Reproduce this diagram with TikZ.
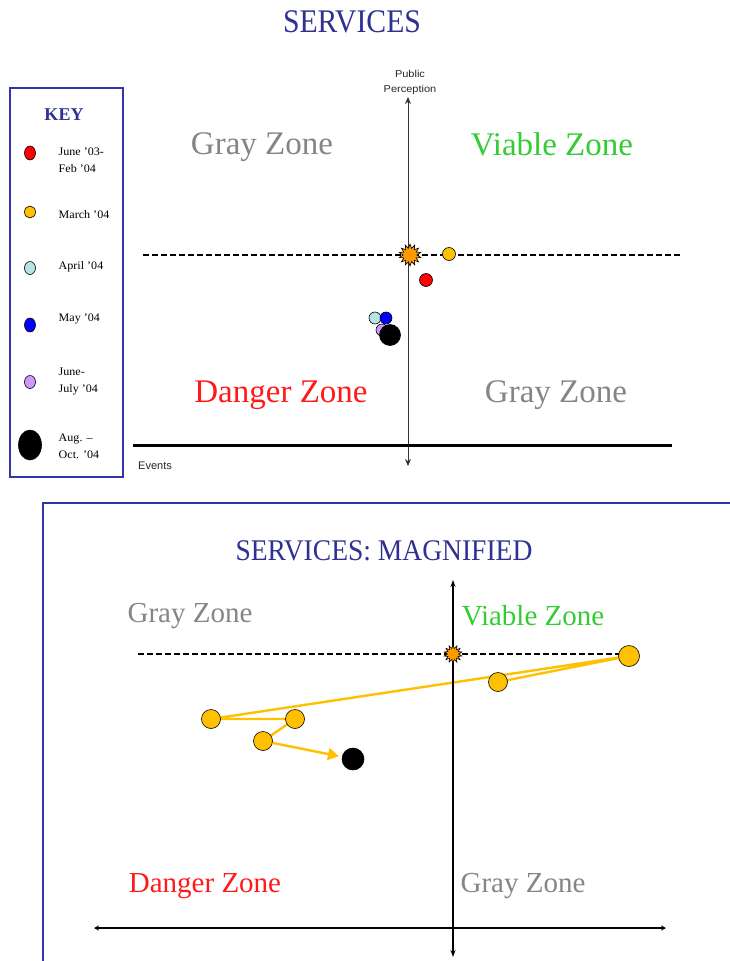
\documentclass[tikz,border=0pt]{standalone}
\usepackage{fontspec}
\setmainfont{Liberation Serif}
\newfontfamily\sansf{Liberation Sans}
\usetikzlibrary{shapes.geometric,arrows.meta,backgrounds}
\definecolor{ttlblue}{HTML}{2E3192}
\definecolor{boxblue}{HTML}{3333AA}
\definecolor{zgray}{HTML}{858585}
\definecolor{zgreen}{HTML}{33CC33}
\definecolor{zred}{HTML}{FF1A1A}
\definecolor{gold}{HTML}{FFC000}
\definecolor{starorange}{HTML}{FF9900}
\definecolor{lcyan}{HTML}{B4E4E4}
\definecolor{lpurple}{HTML}{CC99FF}
\tikzset{
  title/.style={text=ttlblue,font=\fontsize{33}{33}\selectfont,xscale=0.9},
  zonebig/.style={font=\fontsize{33}{33}\selectfont},
  zonesmall/.style={font=\fontsize{29}{29}\selectfont},
  keytext/.style={anchor=west,align=left,font=\fontsize{11.5}{17}\selectfont,xscale=1.05},
  dot/.style={circle,draw=black,line width=0.6pt,inner sep=0pt,minimum size=#1},
  kdot/.style={ellipse,draw=black,line width=0.6pt,inner sep=0pt},
  burst/.style={star,star points=14,star point ratio=1.6,draw=black,line width=0.6pt,fill=starorange,inner sep=0pt,minimum size=#1},
  axis/.style={line width=0.9pt,draw=black!80},
  dashline/.style={line width=1.9pt,dash pattern=on 6pt off 3pt},
  gline/.style={gold,line width=2.4pt},
}
\begin{document}
\begin{tikzpicture}[x=1pt,y=-1pt]
\useasboundingbox (0,0) rectangle (730,961);
% ===== top title
\node[title] (t1) at (352,22) {SERVICES};
% ===== key box
\draw[boxblue,line width=1.2pt] (10,88) rectangle (123,477);
\node[text=ttlblue,font=\bfseries\fontsize{18}{18}\selectfont] (key) at (64,115) {KEY};
\node[kdot,fill=red,minimum width=11pt,minimum height=14pt] (k1) at (30,153) {};
\node[keytext] (k1t) at (55,160) {June '03-\\Feb '04};
\node[kdot,fill=gold,minimum width=11pt,minimum height=12pt] (k2) at (30,212) {};
\node[keytext] (k2t) at (55,215) {March '04};
\node[kdot,fill=lcyan,minimum width=11pt,minimum height=13pt] (k3) at (30,268) {};
\node[keytext] (k3t) at (55,267) {April '04};
\node[kdot,fill=blue,minimum width=11pt,minimum height=14pt] (k4) at (30,325) {};
\node[keytext] (k4t) at (55,319) {May '04};
\node[kdot,fill=lpurple,minimum width=11pt,minimum height=13pt] (k5) at (30,382) {};
\node[keytext] (k5t) at (55,381) {June-\\July '04};
\node[kdot,fill=black,minimum width=23pt,minimum height=30pt] (k6) at (30,445) {};
\node[keytext] (k6t) at (55,446) {Aug. --\\Oct. '04};
% ===== top chart
\coordinate (vt) at (408,97);
\coordinate (vb) at (408,466);
\draw[axis,{Stealth[length=7pt,width=6pt]}-{Stealth[length=7pt,width=6pt]}] (vt) -- (vb);
\node[font=\sansf\fontsize{10}{15}\selectfont,align=center,xscale=1.1,text=black!85] (pp) at (410,82) {Public\\Perception};
\coordinate (dl) at (143,255);
\coordinate (dr) at (680,255);
\draw[dashline] (dl) -- (dr);
\coordinate (hl) at (133,445);
\coordinate (hr) at (672,445);
\draw[line width=3pt] (hl) -- (hr);
\node[font=\sansf\fontsize{11}{11}\selectfont,text=black!85] (ev) at (155,466) {Events};
\node[zonebig,text=zgray] (gz1) at (262,147) {Gray Zone};
\node[zonebig,text=zgreen] (vz1) at (552,144) {Viable Zone};
\node[zonebig,text=zred] (dz1) at (281,395) {Danger Zone};
\node[zonebig,text=zgray] (gz2) at (556,395) {Gray Zone};
\node[burst=22pt] (s1) at (410,255) {};
\node[dot=13pt,fill=gold] (a1) at (449,254) {};
\node[dot=13pt,fill=red] (a2) at (426,280) {};
\node[dot=12pt,fill=lcyan] (a3) at (375,318) {};
\node[dot=12pt,fill=lpurple] (a5) at (382,330) {};
\node[dot=12pt,fill=blue] (a4) at (386,318) {};
\node[dot=21pt,fill=black] (a6) at (390,335) {};
% ===== bottom box
\coordinate (bb1) at (43,961);
\coordinate (bb2) at (43,503);
\coordinate (bb3) at (730,503);
\draw[boxblue,line width=1.4pt] (bb1) -- (bb2) -- (bb3);
\node[title,font=\fontsize{30}{30}\selectfont,xscale=1.02] (t2) at (384,551) {SERVICES: MAGNIFIED};
\coordinate (v2t) at (453,580);
\coordinate (v2b) at (453,957);
\draw[line width=1.8pt,{Stealth[length=7pt,width=5pt]}-{Stealth[length=7pt,width=5pt]}] (v2t) -- (v2b);
\coordinate (h2l) at (94,928);
\coordinate (h2r) at (666,928);
\draw[line width=2.2pt,{Stealth[length=5pt,width=5pt]}-{Stealth[length=5pt,width=5pt]}] (h2l) -- (h2r);
\coordinate (d2l) at (138,654);
\coordinate (d2r) at (628,654);
\draw[dashline] (d2l) -- (d2r);
\node[zonesmall,text=zgray] (gz3) at (190,616) {Gray Zone};
\node[zonesmall,text=zgreen] (vz2) at (533,616) {Viable Zone};
\node[zonesmall,text=zred] (dz2) at (205,886) {Danger Zone};
\node[zonesmall,text=zgray] (gz4) at (523,886) {Gray Zone};
\node[burst=18pt] (s2) at (453,654) {};
\node[dot=19pt,fill=gold] (y1) at (498,682) {};
\node[dot=21pt,fill=gold] (y2) at (629,656) {};
\node[dot=19pt,fill=gold] (y3) at (211,719) {};
\node[dot=19pt,fill=gold] (y4) at (295,719) {};
\node[dot=19pt,fill=gold] (y5) at (263,741) {};
\node[dot=22pt,fill=black] (bk) at (353,759) {};
\begin{scope}[on background layer]
\draw[gline,line join=round] (y1.center) -- (y2.center) -- (y3.center) -- (y4.center) -- (y5.center);
\end{scope}
\draw[gline,-{Triangle[length=11pt,width=12pt]},shorten >=3pt] (y5) -- (bk);
\end{tikzpicture}
\end{document}
